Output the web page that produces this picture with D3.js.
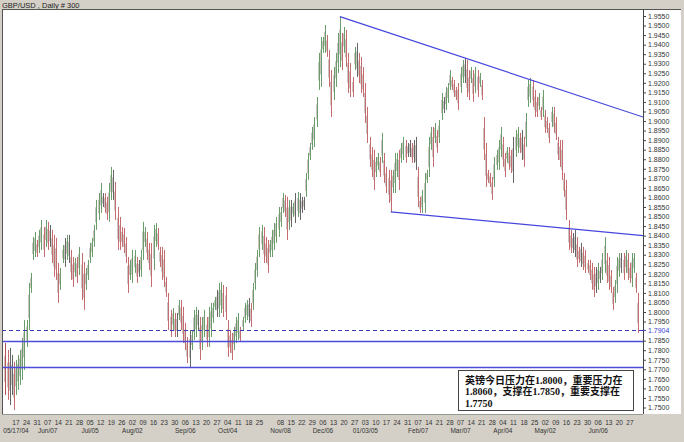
<!DOCTYPE html>
<html><head><meta charset="utf-8">
<script src="https://cdn.jsdelivr.net/npm/d3@7"></script>
<style>html,body{margin:0;padding:0;background:#d4d0c8;}svg{display:block;}</style>
</head><body>
<script>
// ---- data ----
const title = "GBP/USD , Daily # 300";
const high = [
1.7838,1.7801,1.7812,1.7775,1.7739,1.7749,1.7775,1.7801,1.7864,1.7958,
1.7958,1.8152,1.8205,1.8393,1.8419,1.8377,1.8430,1.8482,1.8445,1.8482,
1.8472,1.8456,1.8430,1.8404,1.8388,1.8257,1.8231,1.8351,1.8388,1.8404,
1.8404,1.8325,1.8288,1.8283,1.8288,1.8341,1.8309,1.8262,1.8231,1.8273,
1.8362,1.8388,1.8456,1.8587,1.8623,1.8676,1.8623,1.8623,1.8603,1.8676,
1.8760,1.8744,1.8681,1.8550,1.8498,1.8445,1.8440,1.8393,1.8288,1.8273,
1.8325,1.8325,1.8288,1.8273,1.8325,1.8472,1.8445,1.8419,1.8362,1.8362,
1.8456,1.8466,1.8440,1.8341,1.8341,1.8325,1.8184,1.8100,1.8011,1.8021,
1.7995,1.7995,1.8063,1.8063,1.8027,1.7943,1.7869,1.7906,1.7906,1.8011,
1.8027,1.8011,1.7974,1.7974,1.8011,1.7974,1.8027,1.8048,1.8048,1.8079,
1.8116,1.8152,1.8157,1.8142,1.8131,1.7958,1.7906,1.7890,1.7922,1.7974,
1.7995,1.7922,1.7974,1.8048,1.8063,1.8074,1.8048,1.8152,1.8257,1.8325,
1.8445,1.8456,1.8445,1.8393,1.8377,1.8377,1.8430,1.8466,1.8498,1.8550,
1.8550,1.8623,1.8613,1.8603,1.8587,1.8587,1.8571,1.8623,1.8629,1.8623,
1.8603,1.8603,1.8728,1.8833,1.8885,1.8969,1.9021,1.9126,1.9357,1.9440,
1.9440,1.9503,1.9451,1.9372,1.9267,1.9283,1.9357,1.9461,1.9545,1.9461,
1.9493,1.9477,1.9357,1.9304,1.9231,1.9388,1.9409,1.9357,1.9336,1.9283,
1.9199,1.9074,1.8917,1.8864,1.8849,1.8812,1.8833,1.8812,1.8938,1.8833,
1.8760,1.8744,1.8744,1.8744,1.8833,1.8833,1.8849,1.8885,1.8917,1.8901,
1.8885,1.8901,1.8885,1.8901,1.8917,1.8760,1.8603,1.8639,1.8728,1.8744,
1.8917,1.8969,1.8969,1.8990,1.8953,1.9006,1.9147,1.9126,1.9179,1.9199,
1.9267,1.9231,1.9215,1.9179,1.9199,1.9283,1.9320,1.9330,1.9320,1.9267,
1.9283,1.9267,1.9283,1.9267,1.9252,1.9215,1.9021,1.8885,1.8744,1.8728,
1.8707,1.8812,1.8849,1.8901,1.8969,1.8917,1.8833,1.8864,1.8864,1.8849,
1.8917,1.8953,1.8969,1.8938,1.8953,1.8917,1.9042,1.9215,1.9226,1.9215,
1.9163,1.9126,1.9147,1.9074,1.9163,1.9058,1.9021,1.8990,1.9074,1.9074,
1.9021,1.8917,1.8901,1.8901,1.8728,1.8692,1.8482,1.8430,1.8414,1.8430,
1.8393,1.8341,1.8362,1.8341,1.8325,1.8273,1.8273,1.8257,1.8236,1.8236,
1.8257,1.8236,1.8309,1.8393,1.8309,1.8288,1.8220,1.8131,1.8168,1.8288,
1.8309,1.8309,1.8309,1.8325,1.8309,1.8257,1.8309,1.8309,1.8205,1.8100];
const low = [
1.7566,1.7540,1.7513,1.7566,1.7487,1.7566,1.7592,1.7618,1.7644,1.7697,
1.7817,1.7906,1.8100,1.8273,1.8288,1.8288,1.8309,1.8325,1.8288,1.8341,
1.8325,1.8341,1.8257,1.8184,1.8168,1.8048,1.8116,1.8257,1.8236,1.8273,
1.8257,1.8168,1.8131,1.8184,1.8152,1.8194,1.8063,1.8011,1.8116,1.8168,
1.8257,1.8288,1.8341,1.8430,1.8482,1.8519,1.8550,1.8519,1.8482,1.8472,
1.8587,1.8587,1.8482,1.8325,1.8325,1.8341,1.8309,1.8257,1.8100,1.8168,
1.8152,1.8205,1.8152,1.8184,1.8184,1.8273,1.8341,1.8273,1.8220,1.8131,
1.8220,1.8341,1.8325,1.8236,1.8168,1.8131,1.8079,1.7906,1.7869,1.7906,
1.7869,1.7869,1.7958,1.7906,1.7838,1.7801,1.7733,1.7712,1.7801,1.7854,
1.7869,1.7906,1.7749,1.7801,1.7869,1.7817,1.7817,1.7869,1.7943,1.8011,
1.7974,1.7974,1.7995,1.7974,1.7958,1.7765,1.7786,1.7749,1.7801,1.7838,
1.7854,1.7843,1.7906,1.7943,1.7958,1.7943,1.7922,1.8011,1.8116,1.8184,
1.8288,1.8325,1.8257,1.8257,1.8205,1.8288,1.8288,1.8325,1.8362,1.8393,
1.8445,1.8519,1.8498,1.8377,1.8430,1.8445,1.8498,1.8466,1.8498,1.8482,
1.8519,1.8534,1.8603,1.8692,1.8796,1.8849,1.8864,1.8969,1.9163,1.9179,
1.9357,1.9357,1.9336,1.9179,1.9021,1.9110,1.9179,1.9252,1.9283,1.9267,
1.9357,1.9283,1.9147,1.9126,1.9126,1.9267,1.9231,1.9199,1.9147,1.9126,
1.8990,1.8885,1.8760,1.8707,1.8639,1.8707,1.8744,1.8707,1.8781,1.8676,
1.8623,1.8571,1.8524,1.8623,1.8623,1.8707,1.8639,1.8781,1.8796,1.8781,
1.8812,1.8812,1.8781,1.8781,1.8744,1.8550,1.8519,1.8519,1.8519,1.8676,
1.8707,1.8849,1.8760,1.8885,1.8833,1.8885,1.9006,1.9042,1.9058,1.9095,
1.9163,1.9163,1.9126,1.9110,1.9058,1.9147,1.9199,1.9199,1.9126,1.9110,
1.9199,1.9100,1.9147,1.9126,1.9179,1.9110,1.8796,1.8655,1.8676,1.8655,
1.8587,1.8655,1.8744,1.8744,1.8812,1.8760,1.8707,1.8781,1.8744,1.8728,
1.8676,1.8812,1.8833,1.8833,1.8796,1.8760,1.8864,1.9074,1.9095,1.9074,
1.9021,1.9021,1.9058,1.9006,1.9021,1.8938,1.8938,1.8885,1.8969,1.8938,
1.8901,1.8796,1.8760,1.8692,1.8603,1.8482,1.8325,1.8309,1.8309,1.8288,
1.8236,1.8257,1.8236,1.8220,1.8205,1.8205,1.8168,1.8116,1.8079,1.8100,
1.8116,1.8152,1.8168,1.8205,1.8152,1.8116,1.8100,1.8011,1.8048,1.8100,
1.8184,1.8205,1.8168,1.8205,1.8168,1.8152,1.8131,1.8205,1.8100,1.7890];
const lastPrice = 1.7904;
// weekly ticks (Monday of each week, week 0 = 05/10/04)
const dayLabels = ["17","24","31","07","14","21","28","05","12","19","26","02","09","16","23","30",
 "06","13","20","27","04","11","18","25","","08","15","22","29","06","13","20","27","03","10","17",
 "24","31","07","14","21","28","07","14","21","28","04","11","18","25","02","09","16","23","30",
 "06","13","20","27"];
const monthLabels = [[1,"05/17/04"],[4,"Jun/07"],[8,"Jul/05"],[12,"Aug/02"],[17,"Sep/06"],[21,"Oct/04"],
 [26,"Nov/08"],[30,"Dec/06"],[34,"01/03/05"],[39,"Feb/07"],[43,"Mar/07"],[47,"Apr/04"],[51,"May/02"],[56,"Jun/06"]];
const yTickMin = 1.75, yTickMax = 1.955, yTickStep = 0.005;
const horizontalLevels = [1.7848, 1.7712];
const upperTrend = [[158, 1.9547], [299, 1.9029]];
const lowerTrend = [[182, 1.8524], [299, 1.8402]];
const noteLines = ["英镑今日压力在1.8000，重要压力在","1.8060，支撑在1.7850，重要支撑在","1.7750"];

// ---- layout ----
const W = 684, H = 442;
const L = 2, R = 643, T = 9, B = 414;
const svg = d3.select("body").append("svg").attr("width", W).attr("height", H);
svg.append("rect").attr("width", W).attr("height", H).attr("fill", "#d4d0c8");
svg.append("rect").attr("x", L).attr("y", T).attr("width", 681 - L).attr("height", B - T).attr("fill", "#fff");

const x = d3.scaleLinear().domain([0, 299]).range([5.4, 638.4]);
const y = d3.scaleLinear().domain([1.75, 1.955]).range([407.5, 16]);

const font = "'Liberation Sans', Arial, sans-serif";
svg.append("text").attr("x", 2).attr("y", 7.5).attr("font-family", font).attr("font-size", 7.5)
  .attr("fill", "#222").text(title);

// border lines
svg.append("line").attr("x1", L).attr("x2", 681).attr("y1", T + 0.5).attr("y2", T + 0.5).attr("stroke", "#555");
svg.append("line").attr("x1", L + 0.5).attr("x2", L + 0.5).attr("y1", T).attr("y2", B).attr("stroke", "#555");
svg.append("line").attr("x1", L).attr("x2", R).attr("y1", B + 0.5).attr("y2", B + 0.5).attr("stroke", "#999");

svg.append("clipPath").attr("id", "pc").append("rect")
  .attr("x", L + 1).attr("y", T + 1).attr("width", R - L - 1).attr("height", B - T - 1);
const plot = svg.append("g").attr("clip-path", "url(#pc)");
const barLayer = plot.append("g");
const lineLayer = plot.append("g");

// bars
const bars = high.map((h, i) => ({i, h, l: low[i]}));
function barColor(d) {
  if (d.i === 0) return "#c0504d";
  const m = (d.h + d.l) / 2, pm = (high[d.i - 1] + low[d.i - 1]) / 2;
  if (Math.abs(m - pm) < 0.0012) return "#666";
  return m > pm ? "#6a9c6c" : "#c46c70";
}
barLayer.selectAll("line.bar2").data(bars).join("line").attr("class", "bar2")
  .attr("x1", d => Math.round(x(d.i)) - 0.5).attr("x2", d => Math.round(x(d.i)) - 0.5)
  .attr("y1", d => y(d.h) + (y(d.l) - y(d.h)) * 0.25).attr("y2", d => y(d.l) - (y(d.l) - y(d.h)) * 0.25)
  .attr("stroke", "#9a8f86").attr("stroke-width", 1).attr("opacity", 0.5);
barLayer.selectAll("line.bar").data(bars).join("line").attr("class", "bar")
  .attr("x1", d => Math.round(x(d.i)) + 0.5).attr("x2", d => Math.round(x(d.i)) + 0.5)
  .attr("y1", d => y(d.h)).attr("y2", d => y(d.l))
  .attr("stroke", barColor).attr("stroke-width", 1);

// horizontal support lines
lineLayer.selectAll("line.hl").data(horizontalLevels).join("line").attr("class", "hl")
  .attr("x1", L).attr("x2", R).attr("y1", d => Math.round(y(d)) + 0.5).attr("y2", d => Math.round(y(d)) + 0.5)
  .style("stroke", "#4b4bdc").style("stroke-width", "1.3px");
lineLayer.append("line").attr("class", "last").attr("x1", L).attr("x2", R)
  .attr("y1", Math.round(y(lastPrice)) + 0.5).attr("y2", Math.round(y(lastPrice)) + 0.5)
  .style("stroke", "#3b3bb8").style("stroke-dasharray", "4,3");

// trend lines, extended to the right edge
function trend(pts) {
  const [[i0, p0], [i1, p1]] = pts;
  const x0 = x(i0), y0 = y(p0), x1 = x(i1), y1 = y(p1);
  const s = (y1 - y0) / (x1 - x0);
  lineLayer.append("line").attr("class", "trend").attr("x1", x0).attr("y1", y0).attr("x2", R).attr("y2", y0 + s * (R - x0))
    .style("stroke", "#4646dc").style("stroke-width", "1.2px");
}
trend(upperTrend);
trend(lowerTrend);

// right axis
const yTicks = d3.range(Math.round((yTickMax - yTickMin) / yTickStep) + 1).map(k => +(yTickMin + k * yTickStep).toFixed(4))
  .filter(v => Math.abs(v - lastPrice) > 0.0025);
const ax = svg.append("g").attr("transform", `translate(${R},0)`)
  .call(d3.axisRight(y).tickValues(yTicks).tickSize(3).tickPadding(2).tickFormat(d3.format(".4f")));
ax.select(".domain").remove();
ax.selectAll("line").attr("stroke", "#444");
ax.selectAll("text").attr("font-family", font).attr("font-size", 7).attr("fill", "#333");
svg.append("line").attr("x1", R + 0.5).attr("x2", R + 0.5).attr("y1", T).attr("y2", B).attr("stroke", "#444");
svg.append("line").attr("x1", R).attr("x2", R + 3).attr("y1", y(lastPrice)).attr("y2", y(lastPrice)).attr("stroke", "#3b3bb0");
svg.append("text").attr("x", R + 5).attr("y", y(lastPrice)).attr("dy", "0.32em")
  .attr("font-family", font).attr("font-size", 7).attr("fill", "#3b3bd0").text(lastPrice.toFixed(4));

// bottom axis labels
svg.selectAll("text.day").data(dayLabels.map((t, k) => ({t, w: k + 1}))).join("text").attr("class", "day")
  .attr("x", d => x(d.w * 5)).attr("y", 425).attr("text-anchor", "middle")
  .attr("font-family", font).attr("font-size", 6.5).attr("fill", "#333").text(d => d.t);
svg.selectAll("text.mon").data(monthLabels).join("text").attr("class", "mon")
  .attr("x", d => x(d[0] * 5)).attr("y", 432.5).attr("text-anchor", "middle")
  .attr("font-family", font).attr("font-size", 6.5).attr("fill", "#333").text(d => d[1]);

// annotation box
const bx = 458, by = 370, bw = 175, bh = 40;
svg.append("rect").attr("x", bx + 0.5).attr("y", by + 0.5).attr("width", bw).attr("height", bh)
  .attr("fill", "#fff").attr("stroke", "#444");
svg.selectAll("text.note").data(noteLines).join("text").attr("class", "note")
  .attr("x", bx + 7).attr("y", (d, k) => by + 13.5 + k * 11.7)
  .attr("font-family", "'Liberation Serif', 'Noto Sans CJK SC', serif").attr("font-weight", "bold")
  .attr("font-size", 10).attr("fill", "#111").text(d => d);
</script>
</body></html>
